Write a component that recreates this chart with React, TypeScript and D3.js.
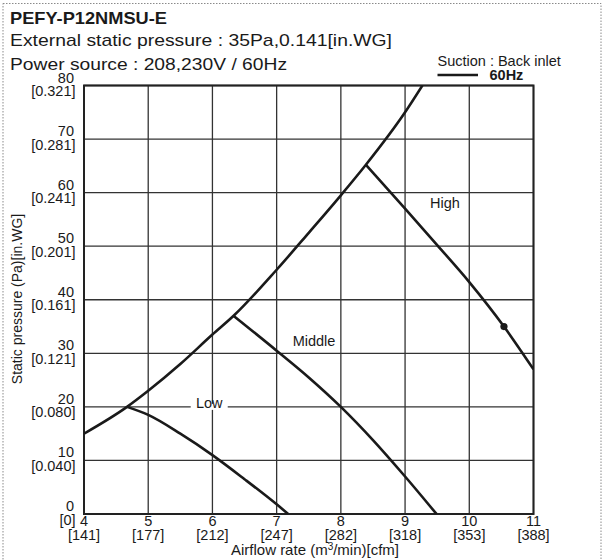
import React from "react";
import * as d3 from "d3";

// ---- data ----
const xTicks = [4, 5, 6, 7, 8, 9, 10, 11];
const xTickSub = ["[141]", "[177]", "[212]", "[247]", "[282]", "[318]", "[353]", "[388]"];
const yTicks = [0, 10, 20, 30, 40, 50, 60, 70, 80];
const yTickSub = ["[0]", "[0.040]", "[0.080]", "[0.121]", "[0.161]", "[0.201]", "[0.241]", "[0.281]", "[0.321]"];

// system / limit curve (airflow m3/min, pressure Pa)
const limitCurve: [number, number][] = [
  [4, 15], [4.67, 20], [5, 23], [5.5, 28], [6, 33.5], [6.33, 37], [7, 45.6],
  [7.5, 52.5], [8, 59.5], [8.39, 65.2], [9, 75], [9.27, 80],
];
const lowCurve: [number, number][] = [
  [4.67, 20], [5, 18.5], [5.5, 15], [6, 11], [6.5, 6.5], [7, 1.8], [7.18, 0],
];
const middleCurve: [number, number][] = [
  [6.33, 37], [7, 30.5], [7.5, 25.5], [8, 20], [8.5, 13.8], [9, 7], [9.49, 0],
];
const highCurve: [number, number][] = [
  [8.39, 65.2], [9, 57], [9.5, 50.2], [10, 43.3], [10.54, 35], [11, 27],
];
const ratedPoint: [number, number] = [10.54, 35];

const curveLabels = [
  { text: "Low", x: 5.95, y: 20, bg: true },
  { text: "Middle", x: 7.25, y: 31.4, bg: false },
  { text: "High", x: 9.39, y: 57.1, bg: false },
];

const titleLines = [
  "PEFY-P12NMSU-E",
  "External static pressure : 35Pa,0.141[in.WG]",
  "Power source : 208,230V / 60Hz",
];

const FONT = "Liberation Sans, Arial, Helvetica, sans-serif";

export default function App() {
  const W = 605;
  const H = 560;
  const x = d3.scaleLinear().domain([4, 11]).range([84, 533.5]);
  const y = d3.scaleLinear().domain([0, 80]).range([514, 85.5]);
  const line = d3
    .line<[number, number]>()
    .x((d) => x(d[0]))
    .y((d) => y(d[1]))
    .curve(d3.curveMonotoneX);

  const curveStyle = { fill: "none", stroke: "#1a1a1a", strokeWidth: 2.6, strokeLinejoin: "round" as const };

  return (
    <svg
      width={W}
      height={H}
      style={{ position: "absolute", left: 0, top: 0, background: "#fff" }}
      fontFamily={FONT}
    >
      <rect x={0} y={0} width={W} height={H} fill="#fff" />
      {/* dashed frame */}
      <rect
        x={3}
        y={3.5}
        width={598}
        height={H + 20}
        fill="none"
        stroke="#8a8a8a"
        strokeWidth={1}
        strokeDasharray="1.5,1.5"
      />

      {/* titles */}
      <text x={10} y={24} fontSize={17} fontWeight="bold" fill="#1a1a1a" textLength={157} lengthAdjust="spacingAndGlyphs">
        {titleLines[0]}
      </text>
      <text x={10} y={46} fontSize={17} fill="#1a1a1a" textLength={382} lengthAdjust="spacingAndGlyphs">
        {titleLines[1]}
      </text>
      <text x={10} y={69.5} fontSize={17} fill="#1a1a1a" textLength={277} lengthAdjust="spacingAndGlyphs">
        {titleLines[2]}
      </text>

      {/* legend */}
      <text x={437.5} y={66} fontSize={14.5} fill="#1a1a1a">
        Suction : Back inlet
      </text>
      <line x1={437.5} x2={478} y1={75} y2={75} stroke="#1a1a1a" strokeWidth={2.6} />
      <text x={489.5} y={80} fontSize={14.5} fontWeight="bold" fill="#1a1a1a">
        60Hz
      </text>

      {/* grid */}
      {xTicks.map((t) => (
        <line key={"gx" + t} x1={x(t)} x2={x(t)} y1={y(0)} y2={y(80)} stroke="#333" strokeWidth={1.3} />
      ))}
      {yTicks.map((t) => (
        <line key={"gy" + t} x1={x(4)} x2={x(11)} y1={y(t)} y2={y(t)} stroke="#333" strokeWidth={1.3} />
      ))}
      <rect x={x(4)} y={y(80)} width={x(11) - x(4)} height={y(0) - y(80)} fill="none" stroke="#222" strokeWidth={2} />

      {/* y tick labels */}
      {yTicks.map((t, i) => (
        <g key={"yl" + t} fontSize={14.5} fill="#1a1a1a" textAnchor="end">
          <text x={74} y={y(t) - 3}>{t}</text>
          <text x={75.5} y={y(t) + 10.5}>{yTickSub[i]}</text>
        </g>
      ))}
      {/* x tick labels */}
      {xTicks.map((t, i) => (
        <g key={"xl" + t} fontSize={14.5} fill="#1a1a1a" textAnchor="middle">
          <text x={x(t)} y={526}>{t}</text>
          <text x={x(t)} y={539.5}>{xTickSub[i]}</text>
        </g>
      ))}

      {/* axis titles */}
      <text x={315} y={555} fontSize={15} fill="#1a1a1a" textAnchor="middle">
        Airflow rate (m<tspan fontSize={10} dy={-5}>3</tspan>
        <tspan dy={5}>/min)[cfm]</tspan>
      </text>
      <text
        transform="translate(21.5,299) rotate(-90)"
        fontSize={14}
        fill="#1a1a1a"
        textAnchor="middle"
      >
        Static pressure (Pa)[in.WG]
      </text>

      {/* curves */}
      <defs>
        <clipPath id="plotclip">
          <rect x={x(4)} y={y(80)} width={x(11) - x(4)} height={y(0) - y(80)} />
        </clipPath>
      </defs>
      <g clipPath="url(#plotclip)">
        <path d={line(limitCurve) || ""} {...curveStyle} />
        <path d={line(lowCurve) || ""} {...curveStyle} />
        <path d={line(middleCurve) || ""} {...curveStyle} />
        <path d={line(highCurve) || ""} {...curveStyle} />
      </g>
      <circle cx={x(ratedPoint[0])} cy={y(ratedPoint[1])} r={3.6} fill="#1a1a1a" />

      {/* curve labels */}
      {curveLabels.map((l) => (
        <g key={l.text}>
          {l.bg && (
            <rect x={x(l.x) - 18.5} y={y(l.y) - 3} width={37} height={6} fill="#fff" />
          )}
          <text
            x={x(l.x)}
            y={l.bg ? y(l.y) + 1 : y(l.y)}
            fontSize={14.5}
            fill="#1a1a1a"
            textAnchor={l.bg ? "middle" : "start"}
          >
            {l.text}
          </text>
        </g>
      ))}
    </svg>
  );
}
